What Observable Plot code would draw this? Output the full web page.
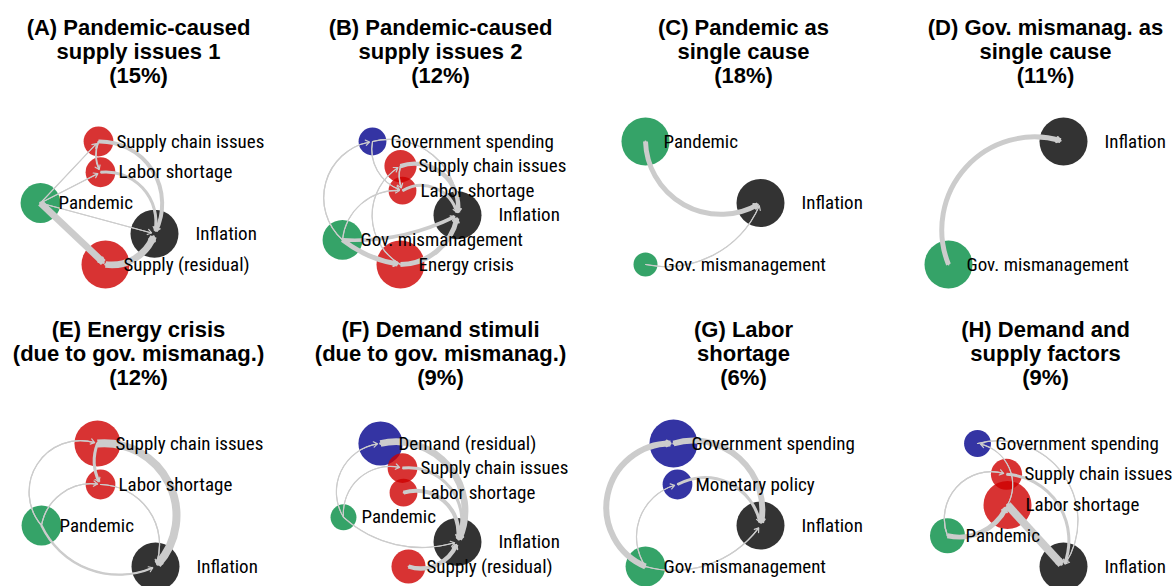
<!DOCTYPE html>
<html><head><meta charset="utf-8">
<script src="https://cdn.jsdelivr.net/npm/d3@7"></script>
<script src="https://cdn.jsdelivr.net/npm/@observablehq/plot@0.6"></script>
<style>
body{margin:0;background:#fff;}
#chart{position:relative;width:1174px;height:586px;overflow:hidden;background:#fff;}
#chart svg{position:absolute;overflow:visible;background:transparent;}
</style></head><body><div id="chart"></div>
<script>
// ---------- data ----------
const panelIds = ["A","B","C","D","E","F","G","H"];
const panelTitles = [
  "(A) Pandemic-caused\nsupply issues 1",
  "(B) Pandemic-caused\nsupply issues 2",
  "(C) Pandemic as\nsingle cause",
  "(D) Gov. mismanag. as\nsingle cause",
  "(E) Energy crisis\n(due to gov. mismanag.)",
  "(F) Demand stimuli\n(due to gov. mismanag.)",
  "(G) Labor\nshortage",
  "(H) Demand and\nsupply factors"
];
const panelShares = [15, 12, 18, 11, 12, 9, 6, 9];

const groups = ["outcome", "supply", "exogenous", "demand"];
const groupColors = ["#000000", "#ce0000", "#028c42", "#01018c"];

// nodes: name, group, layout x, node weight (listed top to bottom)
const nodesA = [
  {name: "Supply chain issues", group: "supply", x: 0.98, size: 0.62},
  {name: "Labor shortage", group: "supply", x: 1.00, size: 0.62},
  {name: "Pandemic", group: "exogenous", x: 0.40, size: 0.83},
  {name: "Inflation", group: "outcome", x: 1.54, size: 1},
  {name: "Supply (residual)", group: "supply", x: 1.05, size: 1}
];
const nodesB = [
  {name: "Government spending", group: "demand", x: 0.70, size: 0.58},
  {name: "Supply chain issues", group: "supply", x: 0.98, size: 0.67},
  {name: "Labor shortage", group: "supply", x: 1.00, size: 0.58},
  {name: "Inflation", group: "outcome", x: 1.55, size: 1},
  {name: "Gov. mismanagement", group: "exogenous", x: 0.40, size: 0.83},
  {name: "Energy crisis", group: "supply", x: 0.98, size: 1}
];
const nodesC = [
  {name: "Pandemic", group: "exogenous", x: 0.40, size: 1},
  {name: "Inflation", group: "outcome", x: 1.55, size: 1},
  {name: "Gov. mismanagement", group: "exogenous", x: 0.40, size: 0.5}
];
const nodesD = [
  {name: "Inflation", group: "outcome", x: 1.56, size: 1},
  {name: "Gov. mismanagement", group: "exogenous", x: 0.41, size: 1}
];
const nodesE = [
  {name: "Supply chain issues", group: "supply", x: 0.97, size: 0.96},
  {name: "Labor shortage", group: "supply", x: 1.00, size: 0.62},
  {name: "Pandemic", group: "exogenous", x: 0.41, size: 0.83},
  {name: "Inflation", group: "outcome", x: 1.55, size: 1}
];
const nodesF = [
  {name: "Demand (residual)", group: "demand", x: 0.78, size: 0.92},
  {name: "Supply chain issues", group: "supply", x: 1.00, size: 0.62},
  {name: "Labor shortage", group: "supply", x: 1.01, size: 0.58},
  {name: "Pandemic", group: "exogenous", x: 0.41, size: 0.54},
  {name: "Inflation", group: "outcome", x: 1.55, size: 1},
  {name: "Supply (residual)", group: "supply", x: 1.06, size: 0.71}
];
const nodesG = [
  {name: "Government spending", group: "demand", x: 0.68, size: 1},
  {name: "Monetary policy", group: "demand", x: 0.72, size: 0.62},
  {name: "Inflation", group: "outcome", x: 1.55, size: 1},
  {name: "Gov. mismanagement", group: "exogenous", x: 0.40, size: 0.83}
];
const nodesH = [
  {name: "Government spending", group: "demand", x: 0.70, size: 0.56},
  {name: "Supply chain issues", group: "supply", x: 0.99, size: 0.65},
  {name: "Labor shortage", group: "supply", x: 1.00, size: 1},
  {name: "Pandemic", group: "exogenous", x: 0.40, size: 0.73},
  {name: "Inflation", group: "outcome", x: 1.56, size: 1}
];

// edges: from, to, weight, arc bend (degrees)
const edgesA = [
  {from: "Pandemic", to: "Supply chain issues", weight: 0.12, bend: 0},
  {from: "Pandemic", to: "Labor shortage", weight: 0.12, bend: 0},
  {from: "Pandemic", to: "Inflation", weight: 0.12, bend: 0},
  {from: "Pandemic", to: "Supply (residual)", weight: 0.85, bend: 0},
  {from: "Supply (residual)", to: "Inflation", weight: 0.85, bend: -40},
  {from: "Supply chain issues", to: "Inflation", weight: 0.5, bend: 60},
  {from: "Labor shortage", to: "Inflation", weight: 0.38, bend: 55},
  {from: "Supply chain issues", to: "Labor shortage", weight: 0.22, bend: -25}
];
const edgesB = [
  {from: "Gov. mismanagement", to: "Government spending", weight: 0.15, bend: 65},
  {from: "Government spending", to: "Inflation", weight: 0.15, bend: 55},
  {from: "Government spending", to: "Labor shortage", weight: 0.12, bend: -42},
  {from: "Supply chain issues", to: "Inflation", weight: 0.55, bend: 60},
  {from: "Labor shortage", to: "Inflation", weight: 0.38, bend: 55},
  {from: "Supply chain issues", to: "Labor shortage", weight: 0.18, bend: -20},
  {from: "Gov. mismanagement", to: "Labor shortage", weight: 0.12, bend: 45},
  {from: "Energy crisis", to: "Supply chain issues", weight: 0.12, bend: 60},
  {from: "Gov. mismanagement", to: "Energy crisis", weight: 0.62, bend: -15},
  {from: "Energy crisis", to: "Inflation", weight: 0.62, bend: -40},
  {from: "Gov. mismanagement", to: "Inflation", weight: 0.45, bend: -15}
];
const edgesC = [
  {from: "Pandemic", to: "Inflation", weight: 0.62, bend: -60},
  {from: "Gov. mismanagement", to: "Inflation", weight: 0.12, bend: -40}
];
const edgesD = [
  {from: "Gov. mismanagement", to: "Inflation", weight: 0.62, bend: 65}
];
const edgesE = [
  {from: "Supply chain issues", to: "Inflation", weight: 1, bend: 70},
  {from: "Supply chain issues", to: "Labor shortage", weight: 0.38, bend: -25},
  {from: "Labor shortage", to: "Inflation", weight: 0.15, bend: 55},
  {from: "Pandemic", to: "Supply chain issues", weight: 0.15, bend: 75},
  {from: "Pandemic", to: "Labor shortage", weight: 0.15, bend: 45},
  {from: "Pandemic", to: "Inflation", weight: 0.3, bend: -45}
];
const edgesF = [
  {from: "Pandemic", to: "Demand (residual)", weight: 0.12, bend: 58},
  {from: "Pandemic", to: "Supply chain issues", weight: 0.12, bend: 55},
  {from: "Pandemic", to: "Inflation", weight: 0.12, bend: -30},
  {from: "Demand (residual)", to: "Inflation", weight: 0.85, bend: 65},
  {from: "Supply chain issues", to: "Inflation", weight: 0.38, bend: 60},
  {from: "Labor shortage", to: "Inflation", weight: 0.5, bend: 60},
  {from: "Supply (residual)", to: "Inflation", weight: 0.55, bend: -45}
];
const edgesG = [
  {from: "Gov. mismanagement", to: "Government spending", weight: 0.75, bend: 80},
  {from: "Government spending", to: "Inflation", weight: 0.75, bend: 60},
  {from: "Gov. mismanagement", to: "Monetary policy", weight: 0.12, bend: 55},
  {from: "Monetary policy", to: "Inflation", weight: 0.38, bend: 55},
  {from: "Gov. mismanagement", to: "Inflation", weight: 0.15, bend: -35}
];
const edgesH = [
  {from: "Government spending", to: "Inflation", weight: 0.12, bend: 70},
  {from: "Labor shortage", to: "Government spending", weight: 0.12, bend: -55},
  {from: "Pandemic", to: "Supply chain issues", weight: 0.15, bend: 65},
  {from: "Pandemic", to: "Labor shortage", weight: 0.62, bend: -40},
  {from: "Labor shortage", to: "Inflation", weight: 1, bend: 0},
  {from: "Supply chain issues", to: "Inflation", weight: 0.38, bend: 55}
];

const panelNodes = [nodesA, nodesB, nodesC, nodesD, nodesE, nodesF, nodesG, nodesH];
const panelEdges = [edgesA, edgesB, edgesC, edgesD, edgesE, edgesF, edgesG, edgesH];

// ---------- drawing ----------
const labelFont = "'Roboto Condensed', 'Liberation Sans Narrow', 'DejaVu Sans Condensed', Roboto, sans-serif";
const titleFont = "'Liberation Sans', Arial, sans-serif";
const maxW = 8;

function drawPanel(k) {
  const nodes = panelNodes[k].map((d, i) => ({...d, i}));
  const byName = new Map(nodes.map(d => [d.name, d]));
  const links = panelEdges[k].map(e => ({
    ...e,
    x1: byName.get(e.from).x, y1: byName.get(e.from).i,
    x2: byName.get(e.to).x, y2: byName.get(e.to).i
  }));
  const bends = [...new Set(links.map(d => d.bend))];
  const title = `${panelTitles[k]}\n(${panelShares[k]}%)`;
  const shafts = bends.map(b => Plot.arrow(links.filter(d => d.bend === b), {
    x1: "x1", y1: "y1", x2: "x2", y2: "y2", bend: b,
    stroke: "#cccccc", strokeWidth: d => Math.max(1, d.weight * maxW),
    headLength: 0, insetEnd: 3, strokeLinecap: "butt"
  }));
  const heads = bends.map(b => Plot.arrow(links.filter(d => d.bend === b), {
    x1: "x1", y1: "y1", x2: "x2", y2: "y2", bend: b,
    stroke: "#cccccc", strokeWidth: d => Math.min(2.8, Math.max(1.2, d.weight * maxW * 0.4)),
    headLength: 7, headAngle: 70, insetEnd: 3
  }));
  const labelStyle = {x: "x", y: "i", text: "name", textAnchor: "start",
    fontSize: 19, fontFamily: labelFont, fill: "#000"};
  const svg = Plot.plot({
    width: 276, height: 302, margin: 0,
    style: {background: "transparent", overflow: "visible"},
    x: {domain: [0, 2.76], range: [0, 276], axis: null},
    y: {domain: [0, nodes.length - 1], range: [141, 264], axis: null},
    r: {type: "linear", domain: [0, 1], range: [0, 24]},
    color: {domain: groups, range: groupColors},
    marks: [
      Plot.dot(nodes, {x: "x", y: "i", r: "size", fill: "group", fillOpacity: 0.8}),
      ...shafts,
      ...heads,
      Plot.text(nodes.filter(d => d.group !== "outcome"), {...labelStyle, dx: 18}),
      Plot.text(nodes.filter(d => d.group === "outcome"), {...labelStyle, dx: 41}),
      Plot.text([title], {
        text: d => d, frameAnchor: "top", dy: 17.5, lineAnchor: "top",
        fontSize: 22, fontWeight: "bold", fontFamily: titleFont, lineHeight: 1.09, fill: "#000"
      })
    ]
  });
  svg.style.left = `${(k % 4) * 302.3}px`;
  svg.style.top = `${Math.floor(k / 4) * 302}px`;
  return svg;
}

const chart = document.getElementById("chart");
panelIds.forEach((id, k) => chart.appendChild(drawPanel(k)));
</script></body></html>
